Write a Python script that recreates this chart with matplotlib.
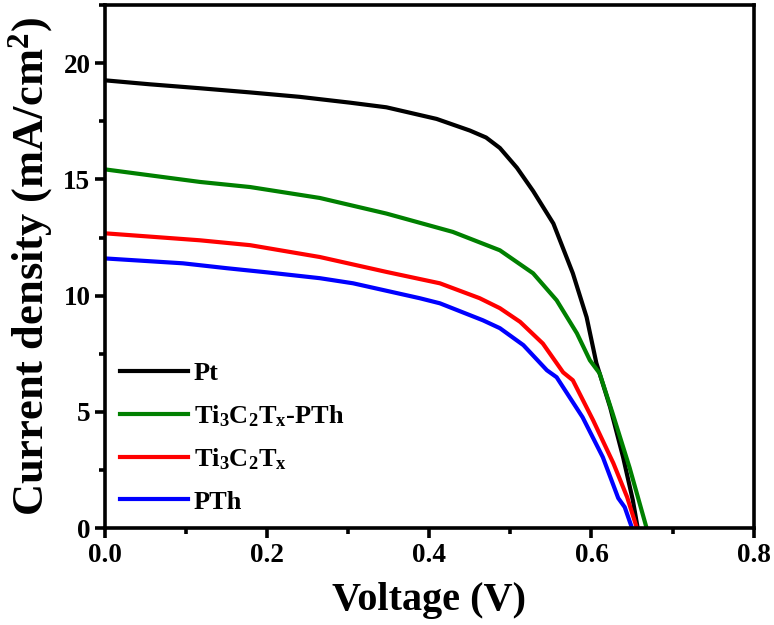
import matplotlib
matplotlib.use("Agg")
import matplotlib.pyplot as plt
from matplotlib.ticker import MultipleLocator

plt.rcParams['font.family'] = 'Liberation Serif'
plt.rcParams['font.weight'] = 'bold'
plt.rcParams['mathtext.fontset'] = 'custom'
plt.rcParams['mathtext.rm'] = 'Liberation Serif:bold'
plt.rcParams['mathtext.bf'] = 'Liberation Serif:bold'
plt.rcParams['mathtext.it'] = 'Liberation Serif:bold'

# J-V curves
v_pt = [0.0, 0.055, 0.117, 0.179, 0.24, 0.302, 0.347, 0.409, 0.45, 0.47, 0.487, 0.508,
        0.528, 0.553, 0.577, 0.594, 0.606, 0.623, 0.639, 0.651, 0.657]
j_pt = [19.26, 19.09, 18.92, 18.74, 18.55, 18.3, 18.1, 17.6, 17.1, 16.8, 16.35, 15.5,
        14.5, 13.1, 10.96, 9.07, 7.1, 5.2, 3.05, 1.2, 0.0]

v_tip = [0.0, 0.117, 0.179, 0.265, 0.347, 0.429, 0.487, 0.528, 0.557, 0.582,
         0.598, 0.61, 0.626, 0.647, 0.668]
j_tip = [15.43, 14.89, 14.67, 14.2, 13.53, 12.74, 11.95, 10.96, 9.8, 8.38,
         7.22, 6.66, 4.94, 2.6, 0.0]

v_ti = [0.0, 0.117, 0.179, 0.265, 0.347, 0.413, 0.462, 0.487, 0.512, 0.54,
        0.565, 0.577, 0.602, 0.627, 0.644, 0.656]
j_ti = [12.68, 12.38, 12.17, 11.66, 11.02, 10.53, 9.89, 9.46, 8.87, 7.94,
        6.7, 6.36, 4.64, 2.79, 1.33, 0.0]

v_pth = [0.0, 0.096, 0.15, 0.2, 0.265, 0.306, 0.388, 0.413, 0.466, 0.487,
         0.516, 0.545, 0.557, 0.589, 0.614, 0.633, 0.641, 0.65]
j_pth = [11.6, 11.39, 11.18, 11.0, 10.75, 10.53, 9.89, 9.67, 8.94, 8.6,
         7.87, 6.79, 6.49, 4.77, 3.05, 1.29, 0.9, 0.0]

labels = ['Pt', r'Ti$_\mathrm{3}$C$_\mathrm{2}$T$_\mathrm{x}$-PTh',
          r'Ti$_\mathrm{3}$C$_\mathrm{2}$T$_\mathrm{x}$', 'PTh']
colors = ['black', '#008000', '#ff0000', '#0000ff']

fig = plt.figure(figsize=(7.74, 6.25), dpi=100)
ax = fig.add_axes([0.1357, 0.155, 0.838, 0.837])

series = [(v_pt, j_pt), (v_tip, j_tip), (v_ti, j_ti), (v_pth, j_pth)]
for (v, j), lab, c in zip(series, labels, colors):
    ax.plot(v, j, color=c, lw=3, label=lab, solid_joinstyle='round')

ax.set_xlim(0, 0.8)
ax.set_ylim(0, 22.5)
ax.xaxis.set_major_locator(MultipleLocator(0.2))
ax.xaxis.set_minor_locator(MultipleLocator(0.1))
ax.yaxis.set_major_locator(MultipleLocator(5))
ax.yaxis.set_minor_locator(MultipleLocator(2.5))
ax.xaxis.set_major_formatter(plt.FormatStrFormatter('%.1f'))

for s in ax.spines.values():
    s.set_linewidth(2.6)
ax.tick_params(which='major', direction='out', length=7, width=2.6, labelsize=19.5)
ax.tick_params(which='minor', direction='out', length=4, width=2.6)

ax.set_xlabel('Voltage (V)', fontsize=29, fontweight='bold', labelpad=10)
ax.set_ylabel(r'Current density (mA/cm$^\mathrm{2}$)', fontsize=32, fontweight='bold', labelpad=6)

ax.legend(loc='lower left', bbox_to_anchor=(0.0, 0.0), frameon=False, fontsize=19,
          handlelength=2.58, handletextpad=0.23, labelspacing=0.68, borderaxespad=0.15)

fig.savefig('out.png', dpi=100)
